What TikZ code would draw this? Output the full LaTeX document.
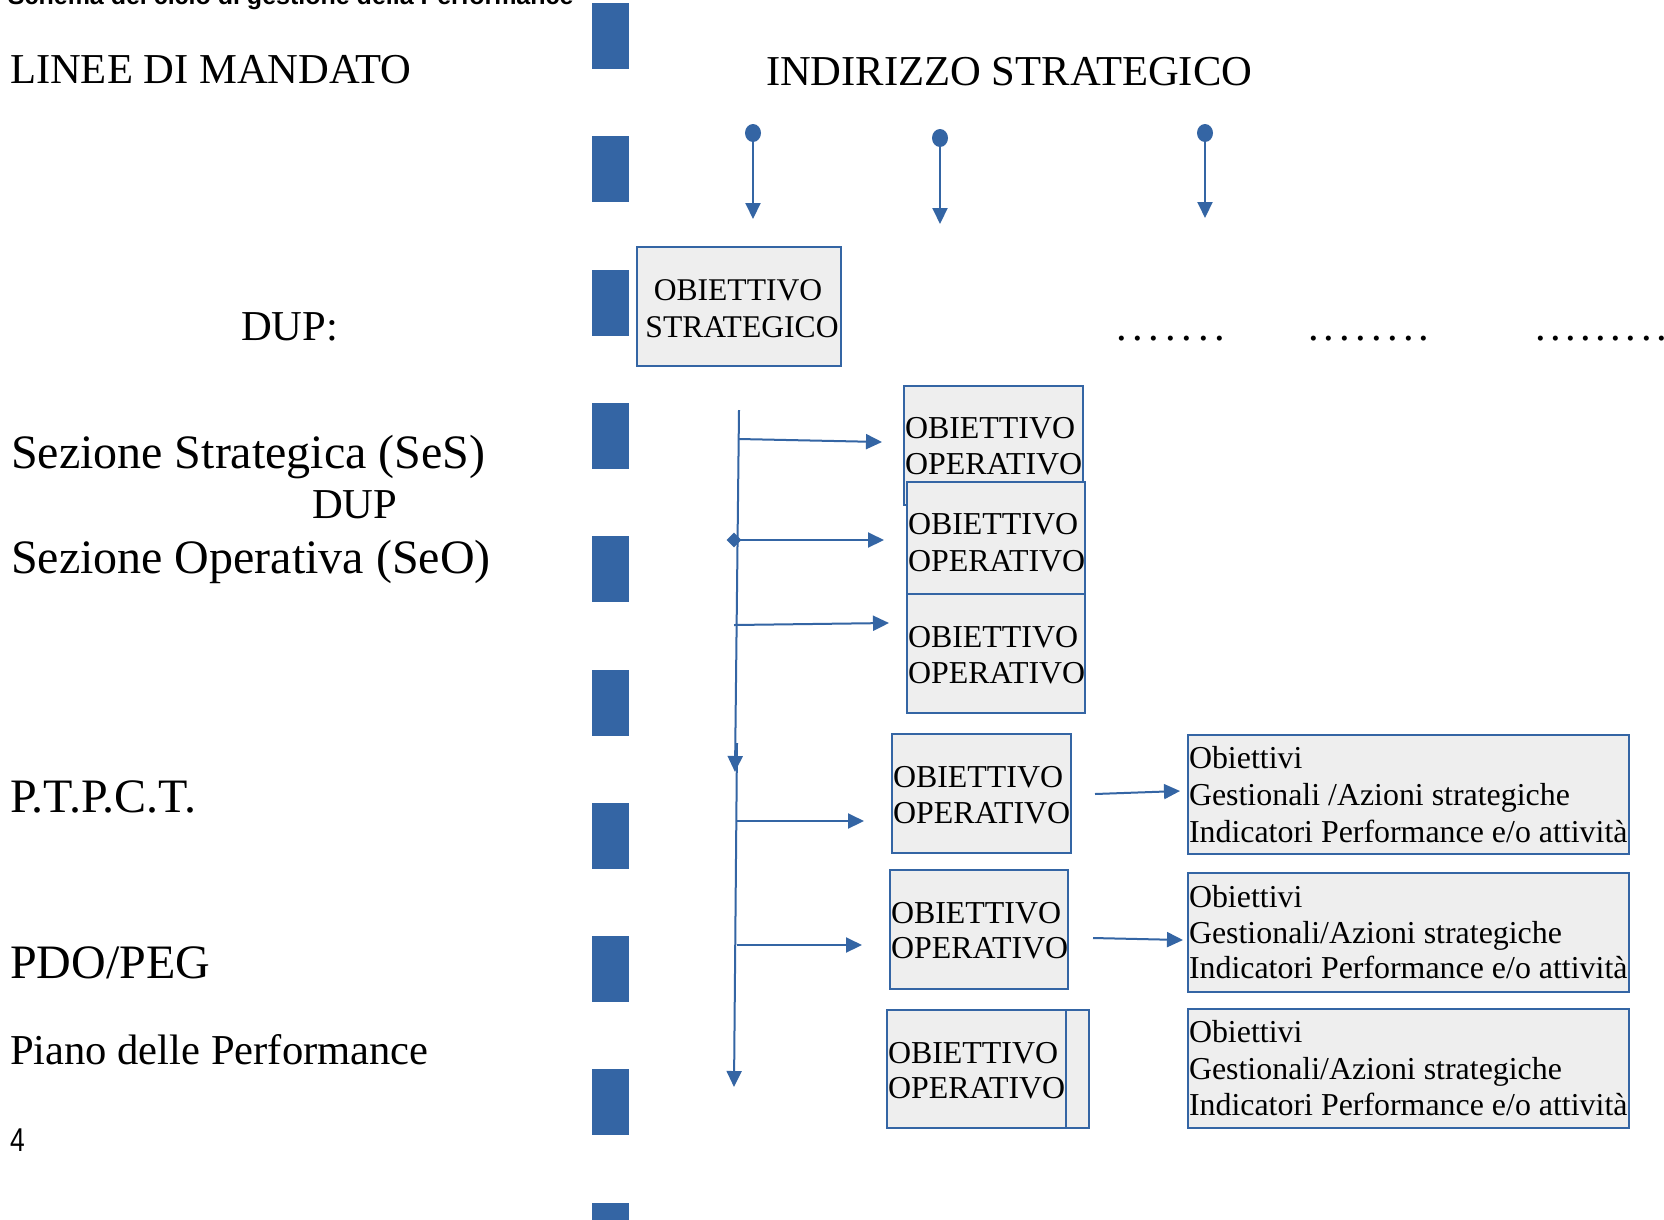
\documentclass[tikz,border=0pt]{standalone}
\usepackage{fontspec}
\setmainfont{Liberation Serif}
\newfontfamily\sansf{Liberation Sans}
\usetikzlibrary{arrows.meta,shapes.geometric}
\definecolor{lblue}{RGB}{52,101,164}
\definecolor{boxgray}{RGB}{238,238,238}
\def\dda{.\kern5.8pt}
\def\ddb{.\kern5.2pt}
\def\ddc{.\kern4.5pt}
\begin{document}
\begin{tikzpicture}[x=1pt,y=-1pt,
 lbl/.style={inner sep=0pt, outer sep=0pt, anchor=base west, text=black},
 lblL/.style={lbl, font=\fontsize{42.6}{50}\selectfont},
 lblX/.style={lbl, font=\fontsize{48}{56}\selectfont},
 boxt/.style={lbl, font=\fontsize{31.9}{38}\selectfont},
 obox/.style={draw=lblue, fill=boxgray, line width=2.2pt, inner sep=0pt, outer sep=0pt, anchor=north west},
 conn/.style={draw=lblue, line width=2pt, -{Triangle[length=16pt,width=15pt]}},
 pin/.style={ellipse, fill=lblue, minimum width=16pt, minimum height=18pt, inner sep=0pt, outer sep=0pt},
]
\clip (0,0) rectangle (1664,1219);
\fill[white] (0,0) rectangle (1664,1219);

% title (clipped at the top, as in the reference)
\node[lbl, font=\sansf\bfseries\fontsize{25}{30}\selectfont] (title) at (8,4) {Schema del ciclo di gestione della Performance};

% left labels
\node[lblL] (linee) at (10,83) {LINEE DI MANDATO};
\node[lblL] (indir) at (766,85) {INDIRIZZO STRATEGICO};
\node[lblL] (dup1) at (241,340) {DUP:};
\node[lblX] (ses) at (11,468) {Sezione Strategica (SeS)};
\node[lblL] (dup2) at (312,518) {DUP};
\node[lblX] (seo) at (11,573) {Sezione Operativa (SeO)};
\node[lbl, font=\fontsize{48}{56}\selectfont] (ptpct) at (10,812) {P.T.P.C.T.};
\node[lblX] (pdo) at (10,978) {PDO/PEG};
\node[lblL] (piano) at (10,1064) {Piano delle Performance};
\node[lbl, font=\sansf\fontsize{33}{36}\selectfont] (pnum) at (10,1151) {\scalebox{0.8}[1]{4}};

% dashed column
\foreach \i in {0,...,9} \fill[lblue] (592,{3+133.3*\i}) rectangle (629,{69+133.3*\i});

% pins
\node[pin] (pin1) at (753,133) {};
\node[pin] (pin2) at (940,138) {};
\node[pin] (pin3) at (1205,133) {};
\coordinate (pin1e) at (753,219);
\coordinate (pin2e) at (940,224);
\coordinate (pin3e) at (1205,218);
\draw[conn] (pin1) -- (pin1e);
\draw[conn] (pin2) -- (pin2e);
\draw[conn] (pin3) -- (pin3e);

% strategic box
\node[obox, minimum width=204pt, minimum height=119pt] (os) at (637,247) {};
\node[boxt, anchor=base, font=\fontsize{31.6}{36}\selectfont] (ost1) at (738,300) {OBIETTIVO};
\node[boxt, anchor=base, font=\fontsize{31.6}{36}\selectfont] (ost2) at (742,337) {STRATEGICO};

% dots
\node[lblL] (dots1) at (1116,340) {\dda\dda\dda\dda\dda\dda.};
\node[lblL] (dots2) at (1308,340) {\ddb\ddb\ddb\ddb\ddb\ddb\ddb.};
\node[lblL] (dots3) at (1535,340) {\ddc\ddc\ddc\ddc\ddc\ddc\ddc\ddc.};

% operative boxes
\node[obox, minimum width=179pt, minimum height=119pt] (oo1) at (904,386) {};
\node[obox, minimum width=178pt, minimum height=112pt] (oo2) at (907,482) {};
\node[obox, minimum width=178pt, minimum height=119pt] (oo3) at (907,594) {};
\node[obox, minimum width=179pt, minimum height=119pt] (oo4) at (892,734) {};
\node[obox, minimum width=178pt, minimum height=119pt] (oo5) at (890,870) {};
\node[obox, minimum width=202pt, minimum height=118pt] (oo6) at (887,1010) {};
\draw[draw=lblue, line width=2.2pt] ([xshift=179pt]oo6.north west) -- ([xshift=179pt]oo6.south west);

\node[boxt] (oo1a) at (905,438) {OBIETTIVO};
\node[boxt] (oo1b) at (905,474) {OPERATIVO};
\node[boxt] (oo2a) at (908,534) {OBIETTIVO};
\node[boxt] (oo2b) at (908,571) {OPERATIVO};
\node[boxt] (oo3a) at (908,647) {OBIETTIVO};
\node[boxt] (oo3b) at (908,683) {OPERATIVO};
\node[boxt] (oo4a) at (893,787) {OBIETTIVO};
\node[boxt] (oo4b) at (893,823) {OPERATIVO};
\node[boxt] (oo5a) at (891,923) {OBIETTIVO};
\node[boxt] (oo5b) at (891,958) {OPERATIVO};
\node[boxt] (oo6a) at (888,1063) {OBIETTIVO};
\node[boxt] (oo6b) at (888,1098) {OPERATIVO};

% management boxes
\node[obox, minimum width=441pt, minimum height=119pt] (g1) at (1188,735) {};
\node[obox, minimum width=441pt, minimum height=119pt] (g2) at (1188,873) {};
\node[obox, minimum width=441pt, minimum height=119pt] (g3) at (1188,1009) {};
\node[boxt] (g1a) at (1189,768) {Obiettivi};
\node[boxt] (g1b) at (1189,805) {Gestionali /Azioni strategiche};
\node[boxt] (g1c) at (1189,842) {Indicatori Performance e/o attività};
\node[boxt] (g2a) at (1189,907) {Obiettivi};
\node[boxt] (g2b) at (1189,943) {Gestionali/Azioni strategiche};
\node[boxt] (g2c) at (1189,978) {Indicatori Performance e/o attività};
\node[boxt] (g3a) at (1189,1042) {Obiettivi};
\node[boxt] (g3b) at (1189,1079) {Gestionali/Azioni strategiche};
\node[boxt] (g3c) at (1189,1115) {Indicatori Performance e/o attività};

% trunk
\coordinate (t1s) at (739,410);
\coordinate (t1e) at (735,772);
\coordinate (t2s) at (737,743);
\coordinate (t2e) at (734,1087);
\draw[conn] (t1s) -- (t1e);
\draw[conn] (t2s) -- (t2e);

% branches
\node[diamond, fill=lblue, minimum width=15pt, minimum height=15pt, inner sep=0pt] (dia) at (734,540) {};
\coordinate (b1s) at (739,439);  \coordinate (b1e) at (882,442);
\coordinate (b2e) at (884,540);
\coordinate (b3s) at (734,625);  \coordinate (b3e) at (889,623);
\coordinate (b4s) at (737,821);  \coordinate (b4e) at (864,821);
\coordinate (b5s) at (737,945);  \coordinate (b5e) at (862,945);
\draw[conn] (b1s) -- (b1e);
\draw[conn] (dia.center) -- (b2e);
\draw[conn] (b3s) -- (b3e);
\draw[conn] (b4s) -- (b4e);
\draw[conn] (b5s) -- (b5e);

% to management boxes
\coordinate (c1s) at (1095,794);  \coordinate (c1e) at (1180,791);
\coordinate (c2s) at (1093,938);  \coordinate (c2e) at (1183,940);
\draw[conn] (c1s) -- (c1e);
\draw[conn] (c2s) -- (c2e);
\end{tikzpicture}
\end{document}
